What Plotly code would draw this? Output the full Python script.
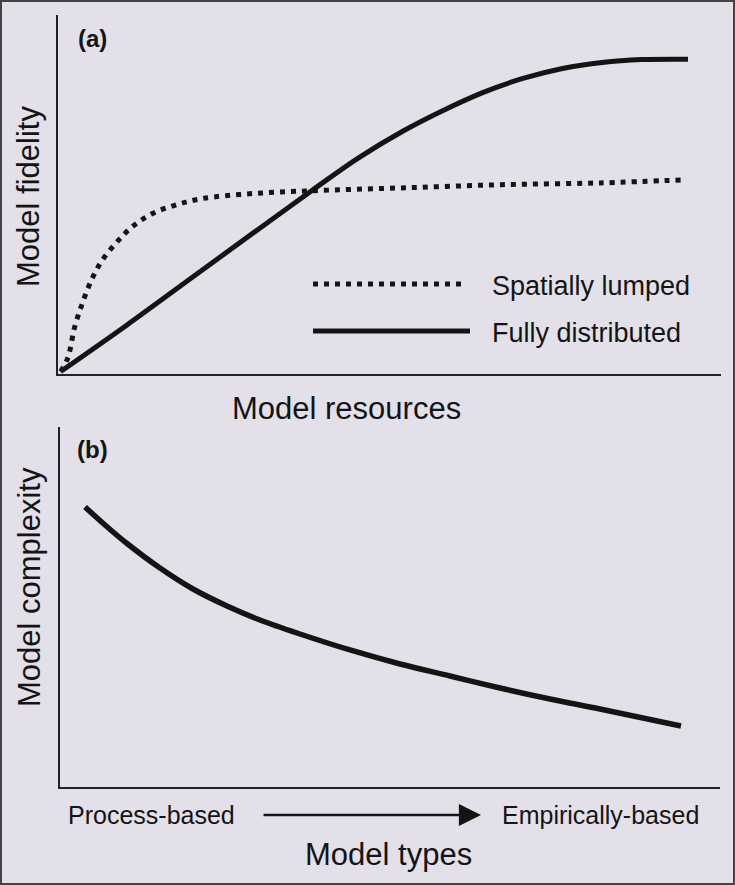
import plotly.graph_objects as go

# ---- data (axis units 0-100) ----
res_solid = [0, 10, 20, 30, 38, 45, 52, 58, 64, 70, 76, 82, 88, 95]
fid_solid = [0, 13.0, 26.5, 40.0, 50.7, 59.8, 67.6, 73.3, 78.3, 82.2, 85.0, 86.7, 87.5, 87.6]

res_dot = [0, 1.1, 2.1, 3.3, 4.8, 6.3, 8.6, 10.9, 13.9, 17.6, 21.4, 29.0, 38.0, 51.6, 66.7, 81.7, 94.6]
fid_dot = [0, 3.9, 12.3, 19.2, 26.2, 31.2, 36.5, 40.7, 44.3, 46.8, 48.5, 49.9, 50.7, 51.5, 52.4, 52.9, 53.8]

types_x = [3.79, 6.82, 10.15, 15.15, 20.15, 25.3, 30.3, 36.36, 43.94, 51.52, 59.09, 66.67, 74.24, 81.82, 94.09]
complexity = [77.78, 72.78, 67.64, 60.83, 55.0, 50.28, 46.39, 42.5, 38.06, 34.17, 30.83, 27.5, 24.44, 21.67, 16.94]

legend_names = ["Spatially lumped", "Fully distributed"]
type_labels = ["Process-based", "Empirically-based"]

W, H = 735, 885
BG = "#e3e0ea"
INK = "#141414"
FONT = "Liberation Sans, Arial, sans-serif"

def px(x):
    return x / W

def py(y):
    return 1 - y / H

fig = go.Figure()

fig.add_trace(go.Scatter(x=res_dot, y=fid_dot, mode="lines", line=dict(color=INK, width=5, dash="5px,6px", shape="spline"),
                         xaxis="x", yaxis="y", showlegend=False, hoverinfo="skip"))
fig.add_trace(go.Scatter(x=res_solid, y=fid_solid, mode="lines", line=dict(color=INK, width=5, shape="spline"),
                         xaxis="x", yaxis="y", showlegend=False, hoverinfo="skip"))
fig.add_trace(go.Scatter(x=types_x, y=complexity, mode="lines", line=dict(color=INK, width=5.5, shape="spline"),
                         xaxis="x2", yaxis="y2", showlegend=False, hoverinfo="skip"))

axis_common = dict(showline=True, linecolor="#222", linewidth=1.6, showgrid=False, zeroline=False,
                   showticklabels=False, ticks="", fixedrange=True)

fig.update_layout(
    width=W, height=H,
    margin=dict(l=0, r=0, t=0, b=0),
    paper_bgcolor=BG, plot_bgcolor=BG,
    xaxis=dict(domain=[px(58), px(721)], range=[-0.4, 100], anchor="y", **axis_common),
    yaxis=dict(domain=[py(374), py(15)], range=[-0.7, 100], anchor="x", **axis_common),
    xaxis2=dict(domain=[px(60), px(720)], range=[0, 100], anchor="y2", **axis_common),
    yaxis2=dict(domain=[py(787), py(427)], range=[0, 100], anchor="x2", **axis_common),
    showlegend=False,
    font=dict(family=FONT, color=INK),
)

ann = []
def txt(t, x, y, size, bold=False, angle=0, xanchor="center"):
    ann.append(dict(text=("<b>%s</b>" % t) if bold else t, x=px(x), y=py(y), xref="paper", yref="paper",
                    showarrow=False, xanchor=xanchor, yanchor="middle", textangle=angle,
                    font=dict(size=size, family=FONT, color=INK)))

txt("(a)", 92, 39, 24, bold=True)
txt("(b)", 92, 449, 24, bold=True)
txt("Model fidelity", 29, 197, 31, angle=-90)
txt("Model resources", 346, 408, 31)
txt("Model complexity", 29, 587, 31, angle=-90)
txt("Model types", 388, 854, 31)
txt(legend_names[0], 490, 286, 27, xanchor="left")
txt(legend_names[1], 490, 333, 27, xanchor="left")
txt(type_labels[0], 151, 815, 25)
txt(type_labels[1], 600, 815, 25)

# arrow between the type labels
ann.append(dict(text="", x=px(481), y=py(815), xref="paper", yref="paper", showarrow=True,
                ax=262 - 481, ay=0, axref="pixel", ayref="pixel", arrowhead=2, arrowsize=1.7,
                arrowwidth=2.6, arrowcolor=INK))

fig.update_layout(annotations=ann)

shapes = [
    # legend samples
    dict(type="line", xref="paper", yref="paper", x0=px(313), x1=px(465), y0=py(284), y1=py(284),
         line=dict(color=INK, width=5, dash="5px,6px")),
    dict(type="line", xref="paper", yref="paper", x0=px(313), x1=px(470), y0=py(331), y1=py(331),
         line=dict(color=INK, width=5)),
    # outer frame
    dict(type="rect", xref="paper", yref="paper", x0=0, x1=1, y0=0, y1=1,
         line=dict(color="#444", width=4)),
]
fig.update_layout(shapes=shapes)

fig.write_html("out.html", config={"displayModeBar": False},
               post_script="document.body.style.margin='0';document.body.style.overflow='hidden';")
